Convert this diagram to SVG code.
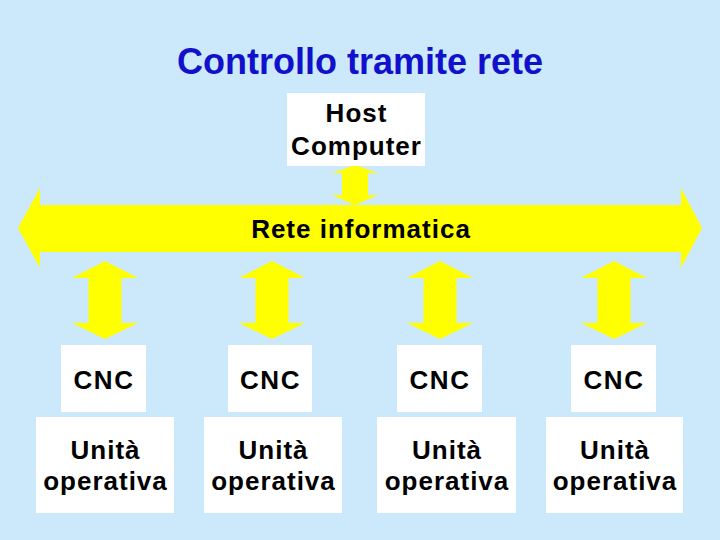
<svg xmlns="http://www.w3.org/2000/svg" xmlns:xlink="http://www.w3.org/1999/xlink" width="720" height="540" viewBox="0 0 720 540">
<style>
.box{fill:#ffffff}
.arr{fill:#ffff00}
.t{font-family:"Liberation Sans",Arial,sans-serif;font-weight:bold;font-size:26px;letter-spacing:1px;fill:#000;text-anchor:middle}
.title{font-family:"Liberation Sans",Arial,sans-serif;font-weight:bold;font-size:36px;fill:#1111cc;text-anchor:middle}
</style>
<defs>
<polygon id="dbl" points="0,261 33,278 16.5,278 16.5,323 33,323 0,339 -33,323 -16.5,323 -16.5,278 -33,278"/>
</defs>
<rect width="720" height="540" fill="#cbe9fb"/>
<text class="title" x="360" y="74">Controllo tramite rete</text>
<g id="connectors" class="arr">
<polygon points="18,228 40,188 40,205 681,205 681,188 702,228 681,268 681,252 40,252 40,268"/>
<polygon points="355,165 378,173 368,173 368,195 378,195 355,205 332,195 342,195 342,173 332,173"/>
<use xlink:href="#dbl" x="105"/>
<use xlink:href="#dbl" x="272"/>
<use xlink:href="#dbl" x="440"/>
<use xlink:href="#dbl" x="614"/>
</g>
<text class="t" x="361" y="238">Rete informatica</text>
<g id="host">
<rect class="box" x="287" y="93" width="138" height="73"/>
<text class="t" x="356.5" y="122">Host</text>
<text class="t" x="356.5" y="155">Computer</text>
</g>
<g id="cnc1"><rect class="box" x="61" y="345" width="85" height="67"/><text class="t" x="104" y="389" style="letter-spacing:1.5px">CNC</text></g>
<g id="cnc2"><rect class="box" x="228" y="345" width="84" height="67"/><text class="t" x="270.5" y="389" style="letter-spacing:1.5px">CNC</text></g>
<g id="cnc3"><rect class="box" x="397" y="345" width="85" height="67"/><text class="t" x="440" y="389" style="letter-spacing:1.5px">CNC</text></g>
<g id="cnc4"><rect class="box" x="571" y="345" width="85" height="67"/><text class="t" x="614" y="389" style="letter-spacing:1.5px">CNC</text></g>
<g id="uo1"><rect class="box" x="36" y="417" width="138" height="96"/><text class="t" x="105.5" y="459">Unità</text><text class="t" x="105.5" y="490">operativa</text></g>
<g id="uo2"><rect class="box" x="204" y="417" width="138" height="96"/><text class="t" x="273.5" y="459">Unità</text><text class="t" x="273.5" y="490">operativa</text></g>
<g id="uo3"><rect class="box" x="377" y="417" width="139" height="96"/><text class="t" x="447" y="459">Unità</text><text class="t" x="447" y="490">operativa</text></g>
<g id="uo4"><rect class="box" x="546" y="417" width="137" height="96"/><text class="t" x="615" y="459">Unità</text><text class="t" x="615" y="490">operativa</text></g>
</svg>
